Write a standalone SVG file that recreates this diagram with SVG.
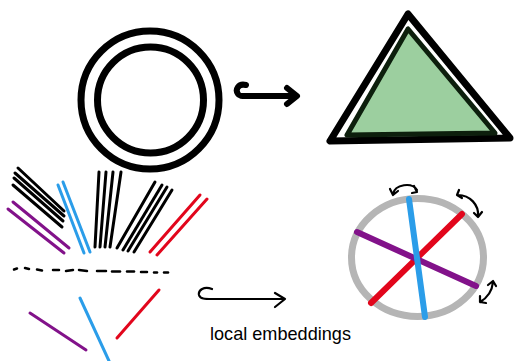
<svg xmlns="http://www.w3.org/2000/svg" width="517" height="361" viewBox="0 0 517 361">
<style>
.k{stroke:#000;fill:none;stroke-linecap:round;stroke-linejoin:round}
.ln{stroke-width:3;stroke-linecap:round;fill:none}
.blk{stroke:#000}.pur{stroke:#82128a}.blu{stroke:#2b9de9}.red{stroke:#e2061c}
.thick{stroke-width:6;stroke-linecap:round;fill:none}
.sm{stroke:#000;stroke-width:2.2;fill:none;stroke-linecap:round;stroke-linejoin:round}
</style>
<rect width="517" height="361" fill="#fff"/>
<g id="circles">
<circle cx="150" cy="100" r="69" class="k" stroke-width="7"/>
<circle cx="150.5" cy="100" r="53" class="k" stroke-width="7"/>
</g>
<g id="triangle">
<polygon points="408,14 330,141 510,138" class="k" stroke-width="7"/>
<polygon points="408,29 347,135 495,133" fill="#9ccf9f" stroke="#0d1f0d" stroke-width="5" stroke-linejoin="round"/>
</g>
<g id="connectors">
<path d="M246 85 C238 83 235 90 238 94 C239 96 242 96 246 96 L296 96 M287 88 L297 96 L287 104" class="k" stroke-width="6"/>
<path d="M212 289 C204 286 198 290 199 295 C200 299 205 299 212 299 L285 299 M275 293 L285 299 L275 307" class="sm"/>
</g>
<g id="lines-top">
<g class="ln blk">
<line x1="18" y1="168" x2="64" y2="211"/>
<line x1="15" y1="173" x2="64" y2="216"/>
<line x1="14" y1="178" x2="63" y2="221"/>
<line x1="13" y1="185" x2="62" y2="227"/>
<line x1="99" y1="172" x2="95" y2="247"/>
<line x1="106" y1="172" x2="100" y2="247"/>
<line x1="113" y1="172" x2="105" y2="247"/>
<line x1="121" y1="172" x2="110" y2="247"/>
<line x1="155" y1="182" x2="117" y2="248"/>
<line x1="162" y1="185" x2="123" y2="250"/>
<line x1="167" y1="187" x2="128" y2="251"/>
<line x1="172" y1="190" x2="134" y2="252"/>
</g>
<g class="ln pur">
<line x1="13" y1="202" x2="69" y2="248"/>
<line x1="8" y1="209" x2="64" y2="253"/>
</g>
<g class="ln blu">
<line x1="58" y1="185" x2="84" y2="253"/>
<line x1="63" y1="182" x2="90" y2="252"/>
</g>
<g class="ln red">
<line x1="200" y1="195" x2="150" y2="252"/>
<line x1="207" y1="199" x2="157" y2="255"/>
</g>
</g>
<g id="dashes" stroke="#000" stroke-width="2.5" stroke-linecap="round">
<line x1="14" y1="269.5" x2="17" y2="268.5"/>
<line x1="25" y1="268" x2="29" y2="269"/>
<line x1="37" y1="269.5" x2="42" y2="270.5"/>
<line x1="53" y1="270" x2="59" y2="270"/>
<line x1="66" y1="271" x2="73" y2="270"/>
<line x1="79" y1="270" x2="87" y2="271"/>
<line x1="97" y1="271" x2="106" y2="271"/>
<line x1="112" y1="271.5" x2="120" y2="271.5"/>
<line x1="127" y1="271.5" x2="134" y2="271.5"/>
<line x1="141" y1="272" x2="147" y2="272"/>
<line x1="154" y1="272.5" x2="157" y2="272.5"/>
<line x1="164" y1="272.5" x2="168" y2="272.5"/>
</g>
<g id="lines-bottom">
<line x1="30" y1="313" x2="86" y2="350" class="ln pur" stroke-width="2.5"/>
<line x1="80" y1="298" x2="109" y2="361" class="ln blu" stroke-width="2.5"/>
<line x1="159" y1="290" x2="117" y2="338" class="ln red" stroke-width="2.5"/>
</g>
<g id="label">
<text x="210" y="340" font-family="'Liberation Sans', Arial, sans-serif" font-size="19" textLength="141" lengthAdjust="spacingAndGlyphs" fill="#000">local embeddings</text>
</g>
<g id="embedding">
<ellipse cx="417.5" cy="257.5" rx="66" ry="59" fill="none" stroke="#b5b5b5" stroke-width="7"/>
<line x1="462" y1="214" x2="371" y2="303" class="thick red"/>
<line x1="357" y1="232" x2="476" y2="286" class="thick pur"/>
<line x1="409" y1="199" x2="425" y2="317" class="thick blu"/>
<path d="M393 194 C395 184 412 182 417 190 M390 189 L393 195 L398 191 M414 186 L417 192 L412 193" class="sm"/>
<path d="M458 195 C470 195 479 205 478 216 M459 190 L457 195 L462 198 M474 213 L478 217 L482 212" class="sm"/>
<path d="M493 282 C492 292 487 298 480 302 M488 285 L493 281 L496 286 M480 296 L480 302 L486 303" class="sm"/>
</g>
</svg>
